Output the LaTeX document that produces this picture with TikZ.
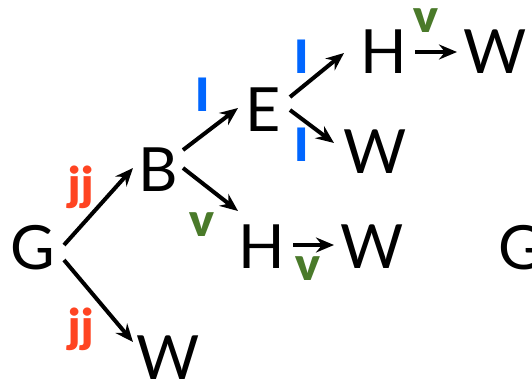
\documentclass[tikz,border=0pt]{standalone}
\usepackage{fontspec}
\setmainfont{Lato}
\newfontfamily\labfont{Lato Black}
\usetikzlibrary{arrows.meta}
\definecolor{jjred}{HTML}{FF4422}
\definecolor{iblue}{HTML}{0066FF}
\definecolor{vgreen}{HTML}{4A7A2A}
\begin{document}
\begin{tikzpicture}[x=1pt,y=-1pt,
  letter/.style={inner sep=0pt,font=\fontsize{61}{61}\selectfont},
  lab/.style={inner sep=0pt,font=\fontsize{46}{46}\labfont},
  jjlab/.style={lab,text=jjred},
  ilab/.style={lab,text=iblue},
  vlab/.style={lab,text=vgreen},
  arr/.style={line width=4pt,-{Stealth[length=18pt,width=15pt,inset=6pt]}}]
\useasboundingbox (0,0) rectangle (532,381);
\node[letter] (G) at (33,248) {G};
\node[letter] (B) at (158,170) {B};
\node[letter] (W1) at (168,358) {W};
\node[letter] (E) at (263,110) {E};
\node[letter] (H1) at (384,52) {H};
\node[letter] (W2) at (495,52) {W};
\node[letter] (W3) at (375,152) {W};
\node[letter] (H2) at (262,247) {H};
\node[letter] (W4) at (372,247) {W};
\node[letter] (G2) at (521,248) {G};
% endpoints
\coordinate (gb1) at (64,245);
\coordinate (gb2) at (133,168);
\coordinate (gw1) at (64,260);
\coordinate (gw2) at (133,342);
\coordinate (bh1) at (183,168);
\coordinate (bh2) at (238,211);
\coordinate (be1) at (183,150);
\coordinate (be2) at (238,108);
\coordinate (eh1) at (290,97);
\coordinate (eh2) at (344,53);
\coordinate (ew1) at (290,110);
\coordinate (ew2) at (334,143);
\coordinate (hw1) at (415,52);
\coordinate (hw2) at (457,52);
\coordinate (hw3) at (293,245);
\coordinate (hw4) at (334,245);
\draw[arr] (gb1) -- (gb2);
\draw[arr] (gw1) -- (gw2);
\draw[arr] (bh1) -- (bh2);
\draw[arr] (be1) -- (be2);
\draw[arr] (eh1) -- (eh2);
\draw[arr] (ew1) -- (ew2);
\draw[arr] (hw1) -- (hw2);
\draw[arr] (hw3) -- (hw4);
% labels
\node[jjlab] (l1) at (81,187) {jj};
\node[jjlab] (l2) at (81,329) {jj};
\node[vlab] (l3) at (202,225) {v};
\node[ilab] (l4) at (203,95) {I};
\node[ilab] (l5) at (302,57) {I};
\node[ilab] (l6) at (302,145) {I};
\node[vlab] (l7) at (426,21) {v};
\node[vlab] (l8) at (308,269) {v};
\end{tikzpicture}
\end{document}
